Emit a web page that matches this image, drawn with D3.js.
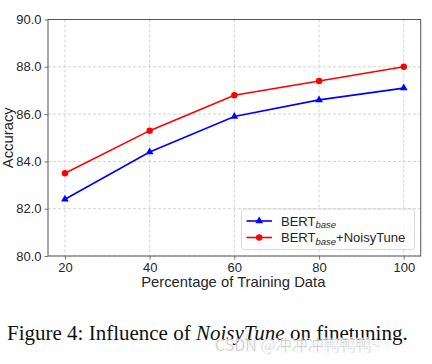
<!DOCTYPE html>
<html><head><meta charset="utf-8">
<script src="https://cdn.jsdelivr.net/npm/d3@7"></script>
<style>body{margin:0;background:#fff}svg{display:block}</style>
</head><body>
<svg id="c" width="432" height="364"></svg>
<script>
const percentages = [20, 40, 60, 80, 100];
const bertBase = [82.4, 84.4, 85.9, 86.6, 87.1];
const bertNoisyTune = [83.5, 85.3, 86.8, 87.4, 88.0];
const yTicks = [80, 82, 84, 86, 88, 90];
const xTicks = [20, 40, 60, 80, 100];

const svg = d3.select("#c");
const m = {l: 48, t: 19.5, r: 420.7, b: 256};
const x = d3.scaleLinear().domain([16, 104]).range([m.l, m.r]);
const y = d3.scaleLinear().domain([80, 90]).range([m.b, m.t]);
const font = "Liberation Sans, Arial, sans-serif";

// grid
const g = svg.append("g");
g.selectAll(".gx").data(xTicks).enter().append("line")
  .attr("x1", d => x(d)).attr("x2", d => x(d)).attr("y1", m.t).attr("y2", m.b)
  .attr("stroke", "#c8c8c8").attr("stroke-width", 0.8).attr("stroke-dasharray", "3,2");
g.selectAll(".gy").data(yTicks).enter().append("line")
  .attr("y1", d => y(d)).attr("y2", d => y(d)).attr("x1", m.l).attr("x2", m.r)
  .attr("stroke", "#c8c8c8").attr("stroke-width", 0.8).attr("stroke-dasharray", "3,2");

// axes
const xAxis = d3.axisBottom(x).tickValues(xTicks).tickSize(3.5).tickPadding(3).tickFormat(d3.format("d"));
const yAxis = d3.axisLeft(y).tickValues(yTicks).tickSize(3.5).tickPadding(3).tickFormat(d3.format(".1f"));
const ax = svg.append("g").attr("transform", `translate(0,${m.b})`).call(xAxis);
const ay = svg.append("g").attr("transform", `translate(${m.l},0)`).call(yAxis);
[ax, ay].forEach(a => {
  a.select(".domain").remove();
  a.selectAll(".tick line").attr("stroke", "#555").attr("stroke-width", 0.8);
  a.selectAll(".tick text").attr("fill", "#262626").style("font-family", font).style("font-size", "13px");
});
// frame
svg.append("rect").attr("x", m.l).attr("y", m.t).attr("width", m.r - m.l).attr("height", m.b - m.t)
  .attr("fill", "none").attr("stroke", "#555").attr("stroke-width", 1);

// lines
const line = d3.line().x((d, i) => x(percentages[i])).y(d => y(d));
svg.append("path").datum(bertBase).attr("d", line).attr("fill", "none").attr("stroke", "#0000ff").attr("stroke-width", 1.6);
svg.append("path").datum(bertNoisyTune).attr("d", line).attr("fill", "none").attr("stroke", "#ff0000").attr("stroke-width", 1.6);
const tri = d3.symbol().type(d3.symbolTriangle).size(26);
svg.selectAll(".tb").data(bertBase).enter().append("path")
  .attr("d", tri).attr("transform", (d, i) => `translate(${x(percentages[i])},${y(d)})`).attr("fill", "#0000ff");
svg.selectAll(".cr").data(bertNoisyTune).enter().append("circle")
  .attr("cx", (d, i) => x(percentages[i])).attr("cy", d => y(d)).attr("r", 3.2).attr("fill", "#ff0000");

// axis labels
svg.append("text").attr("x", 233.3).attr("y", 287).attr("text-anchor", "middle")
  .style("font-family", font).style("font-size", "14.8px").attr("fill", "#262626").text("Percentage of Training Data");
svg.append("text").attr("transform", `translate(12.5,${(m.t + m.b) / 2}) rotate(-90)`).attr("text-anchor", "middle")
  .style("font-family", font).style("font-size", "14.8px").attr("fill", "#262626").text("Accuracy");

// legend
const lg = svg.append("g");
lg.append("rect").attr("x", 241.5).attr("y", 209).attr("width", 173).attr("height", 40.5).attr("rx", 2.5)
  .attr("fill", "#fff").attr("fill-opacity", 0.8).attr("stroke", "#d0d0d0").attr("stroke-width", 0.8);
const items = [
  {c: "#0000ff", m: "tri", sub: "base", suffix: ""},
  {c: "#ff0000", m: "circ", sub: "base", suffix: "+NoisyTune"}
];
items.forEach((it, i) => {
  const yy = 221 + i * 16.5;
  lg.append("line").attr("x1", 246.5).attr("x2", 272).attr("y1", yy).attr("y2", yy).attr("stroke", it.c).attr("stroke-width", 1.6);
  if (it.m === "tri") lg.append("path").attr("d", tri).attr("transform", `translate(259.2,${yy})`).attr("fill", it.c);
  else lg.append("circle").attr("cx", 259.2).attr("cy", yy).attr("r", 3.2).attr("fill", it.c);
  const t = lg.append("text").attr("x", 281).attr("y", yy + 4.5).style("font-family", font).style("font-size", "13px").attr("fill", "#262626");
  t.append("tspan").text("BERT");
  t.append("tspan").text(it.sub).style("font-style", "italic").style("font-size", "9.5px").attr("dy", 2.5);
  if (it.suffix) t.append("tspan").text(it.suffix).attr("dy", -2.5);
});

// caption
const cap = svg.append("text").attr("x", 7).attr("y", 340).style("font-family", "Liberation Serif, serif").style("font-size", "21px").attr("fill", "#111");
cap.append("tspan").text("Figure 4: Influence of ");
cap.append("tspan").text("NoisyTune").style("font-style", "italic");
cap.append("tspan").text(" on finetuning.");

// watermark (overlaps the caption, as in the reference)
svg.append("text").attr("x", 215).attr("y", 351).style("font-family", "Noto Sans CJK SC, sans-serif").style("font-size", "16px")
  .attr("fill", "#b0b0b0").attr("fill-opacity", 0.85).attr("stroke", "#fff").attr("stroke-width", 0.4).text("CSDN @冲冲冲鸭鸭鸭~");
</script>
</body></html>
